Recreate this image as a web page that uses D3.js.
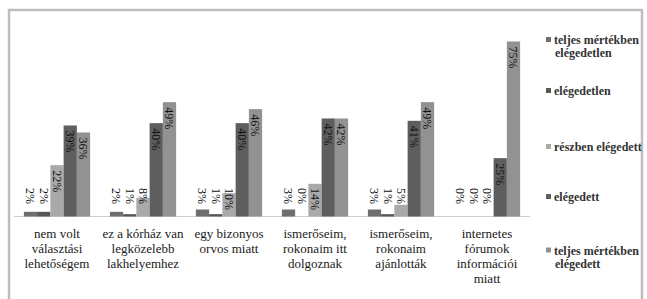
<!DOCTYPE html>
<html>
<head>
<meta charset="utf-8">
<script src="https://cdn.jsdelivr.net/npm/d3@7"></script>
<style>
  body { margin: 0; background: #fff; }
  svg { display: block; font-family: "Liberation Serif", "Times New Roman", serif; }
</style>
</head>
<body>
<svg width="647" height="299"></svg>
<script>
// chart data
var categories = [
  ["nem volt", "választási", "lehetőségem"],
  ["ez a kórház van", "legközelebb", "lakhelyemhez"],
  ["egy bizonyos", "orvos miatt"],
  ["ismerőseim,", "rokonaim itt", "dolgoznak"],
  ["ismerőseim,", "rokonaim", "ajánlották"],
  ["internetes", "fórumok", "információi", "miatt"]
];
var seriesNames = [
  ["teljes mértékben", "elégedetlen"],
  ["elégedetlen"],
  ["részben elégedett"],
  ["elégedett"],
  ["teljes mértékben", "elégedett"]
];
var seriesColors = ["#6e6e6e", "#565656", "#a9a9a9", "#5e5e5e", "#929292"];
var teljesElegedetlen = [2, 2, 3, 3, 3, 0];
var elegedetlen = [2, 1, 1, 0, 1, 0];
var reszbenElegedett = [22, 8, 10, 14, 5, 0];
var elegedett = [39, 40, 40, 42, 41, 25];
var teljesElegedett = [36, 49, 46, 42, 49, 75];
var values = [teljesElegedetlen, elegedetlen, reszbenElegedett, elegedett, teljesElegedett];

// legend entry centres (layout, as placed in the original)
var legendY = [46.5, 91, 147, 197, 257];

var svg = d3.select("svg");

// outer frame
svg.append("rect")
  .attr("x", 9).attr("y", 10)
  .attr("width", 633).attr("height", 300)
  .attr("fill", "none")
  .attr("stroke", "#bdbdbd")
  .attr("stroke-width", 2.5);

var x0 = d3.scaleBand()
  .domain(d3.range(categories.length))
  .range([14, 530])
  .paddingInner(0.23)
  .paddingOuter(0.115);

var x1 = d3.scaleBand()
  .domain(d3.range(seriesNames.length))
  .range([0, x0.bandwidth()]);

var y = d3.scaleLinear().domain([0, 80]).range([216.5, 29.8]);

// category axis line
svg.append("line")
  .attr("x1", 14).attr("x2", 530)
  .attr("y1", y(0)).attr("y2", y(0))
  .attr("stroke", "#cfcfcf")
  .attr("stroke-width", 1.2);

var group = svg.append("g").selectAll("g")
  .data(categories)
  .join("g")
  .attr("transform", function(d, i) { return "translate(" + x0(i) + ",0)"; });

function cells(d, i) {
  return values.map(function(s, k) { return { s: k, v: s[i] }; });
}

group.selectAll("rect")
  .data(cells)
  .join("rect")
  .attr("x", function(d) { return x1(d.s); })
  .attr("y", function(d) { return y(d.v); })
  .attr("width", x1.bandwidth())
  .attr("height", function(d) { return y(0) - y(d.v); })
  .attr("fill", function(d) { return seriesColors[d.s]; });

// value labels, rotated
group.selectAll("text")
  .data(cells)
  .join("text")
  .attr("transform", function(d) {
    var ty = Math.min(y(d.v) + 5, 188);
    var tx = x1(d.s) + x1.bandwidth() / 2;
    return "translate(" + tx + "," + ty + ") rotate(90)";
  })
  .attr("dy", "0.35em")
  .attr("font-size", 12)
  .attr("fill", "#111")
  .text(function(d) { return d.v + "%"; });

// category labels
svg.append("g").selectAll("text")
  .data(categories)
  .join("text")
  .attr("text-anchor", "middle")
  .attr("font-size", 13)
  .attr("fill", "#1a1a1a")
  .attr("x", function(d, i) { return x0(i) + x0.bandwidth() / 2; })
  .attr("y", 238)
  .selectAll("tspan")
  .data(function(d) { return d; })
  .join("tspan")
  .attr("x", function() { return this.parentNode.getAttribute("x"); })
  .attr("dy", function(d, i) { return i === 0 ? 0 : 15; })
  .text(function(d) { return d; });

// legend
var legend = svg.append("g").selectAll("g")
  .data(seriesNames)
  .join("g")
  .attr("transform", function(d, i) { return "translate(546," + legendY[i] + ")"; });

legend.append("rect")
  .attr("x", 0)
  .attr("y", function(d) { return -(d.length - 1) * 6.5 - 3; })
  .attr("width", 5).attr("height", 5)
  .attr("fill", function(d, i) { return seriesColors[i]; });

legend.append("text")
  .attr("font-size", 12)
  .attr("font-weight", "bold")
  .attr("fill", "#333")
  .selectAll("tspan")
  .data(function(d) {
    return d.map(function(t, j) { return { t: t, j: j, n: d.length }; });
  })
  .join("tspan")
  .attr("x", function(d) { return d.j === 0 ? 8 : 9; })
  .attr("y", function(d) { return -(d.n - 1) * 6.5 + d.j * 13 + 4; })
  .text(function(d) { return d.t; });
</script>
</body>
</html>
